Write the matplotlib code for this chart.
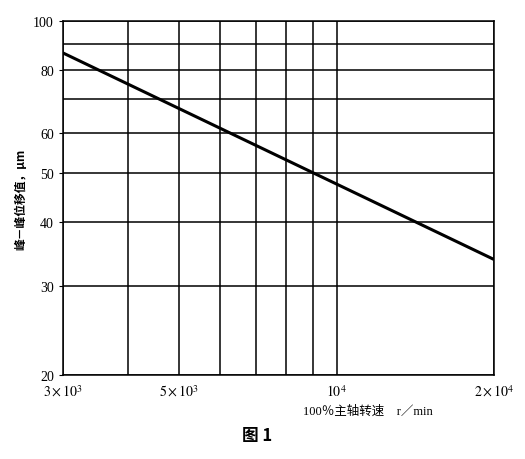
import matplotlib
matplotlib.use('Agg')
import matplotlib.pyplot as plt
from matplotlib.ticker import NullFormatter

plt.rcParams['font.family'] = ['Liberation Serif', 'Noto Sans CJK SC']
plt.rcParams['mathtext.fontset'] = 'stix'

# data (log-log straight line)
speed = [3000, 20000]
displacement = [86.5, 33.8]

x_major = [3000, 5000, 10000, 20000]
x_major_labels = [r'$3\times10^{3}$', r'$5\times10^{3}$', r'$10^{4}$', r'$2\times10^{4}$']
x_minor = [4000, 6000, 7000, 8000, 9000]
y_major = [20, 30, 40, 50, 60, 80, 100]
y_minor = [70, 90]

fig = plt.figure(figsize=(5.25, 4.6), dpi=100)
ax = fig.add_axes([0.12, 0.183, 0.821, 0.769])

ax.plot(speed, displacement, color='black', linewidth=2.2, solid_capstyle='butt', zorder=3)

ax.set_xscale('log')
ax.set_yscale('log')
ax.set_xlim(3000, 20000)
ax.set_ylim(20, 100)

ax.set_xticks(x_major)
ax.set_xticklabels(x_major_labels)
ax.set_xticks(x_minor, minor=True)
ax.set_yticks(y_major)
ax.set_yticklabels([str(v) for v in y_major])
ax.set_yticks(y_minor, minor=True)
ax.xaxis.set_minor_formatter(NullFormatter())
ax.yaxis.set_minor_formatter(NullFormatter())

ax.grid(True, which='both', color='black', linewidth=1.1)
ax.tick_params(axis='both', which='major', labelsize=10, length=3, width=0.8, color='black')
ax.tick_params(axis='both', which='minor', length=0)
ax.tick_params(axis='x', which='major', length=0, pad=6)
for s in ax.spines.values():
    s.set_linewidth(1.1)
    s.set_color('black')

ax.set_ylabel('峰－峰位移值，μm', fontsize=8.5, fontweight='bold', labelpad=4,
              family=['Noto Sans CJK SC', 'DejaVu Sans'])

fig.text(0.70, 0.104, '100％主轴转速    r／min', fontsize=9, ha='center', va='center',
         family=['Liberation Serif', 'Noto Sans CJK SC'])
fig.text(0.49, 0.052, '图 1', fontsize=12, fontweight='bold', ha='center', va='center',
         family=['Noto Sans CJK SC', 'DejaVu Sans'])

fig.savefig('out.png', dpi=100)
